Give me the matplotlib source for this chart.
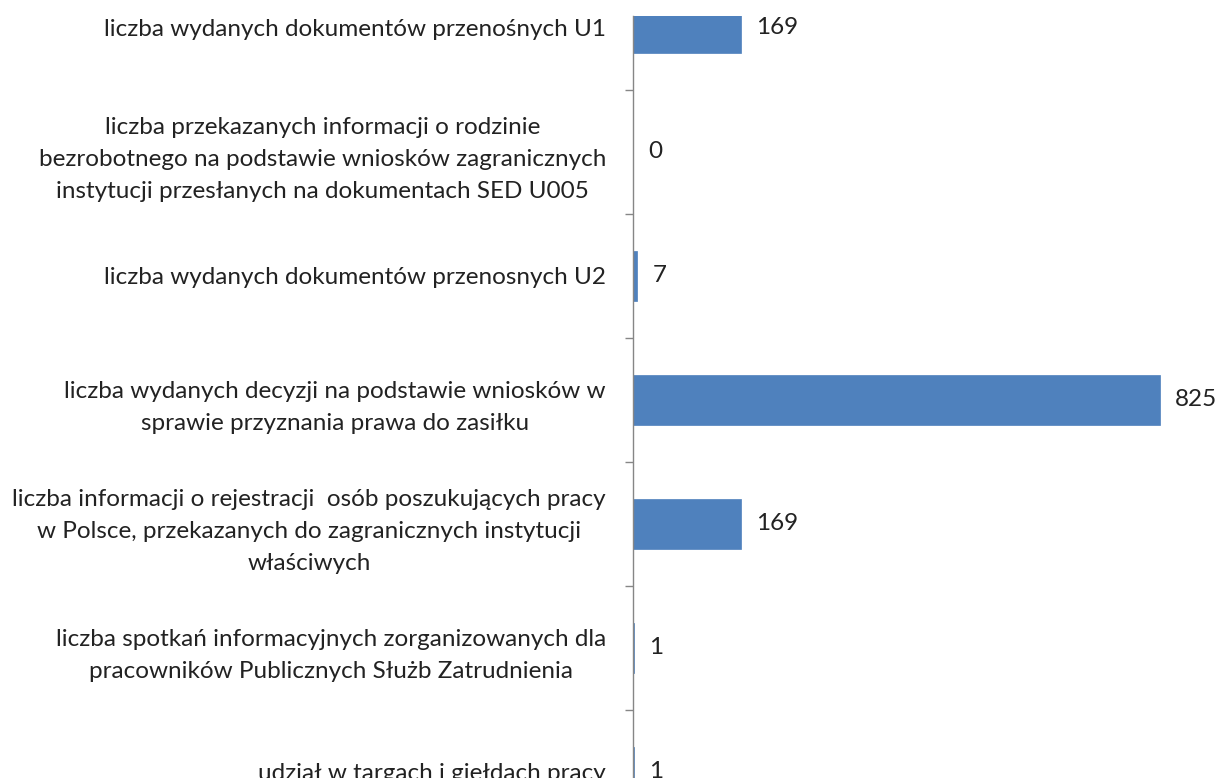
import matplotlib
matplotlib.use("Agg")
import matplotlib.pyplot as plt

categories = [
    "liczba wydanych dokumentów przenośnych U1",
    "liczba przekazanych informacji o rodzinie\nbezrobotnego na podstawie wniosków zagranicznych\ninstytucji przesłanych na dokumentach SED U005",
    "liczba wydanych dokumentów przenosnych U2",
    "liczba wydanych decyzji na podstawie wniosków w\nsprawie przyznania prawa do zasiłku",
    "liczba informacji o rejestracji  osób poszukujących pracy\nw Polsce, przekazanych do zagranicznych instytucji\nwłaściwych",
    "liczba spotkań informacyjnych zorganizowanych dla\npracowników Publicznych Służb Zatrudnienia",
    "udział w targach i giełdach pracy",
]
values = [169, 0, 7, 825, 169, 1, 1]

plt.rcParams['font.family'] = ['Lato', 'DejaVu Sans']

W, H = 1216, 778
fig = plt.figure(figsize=(W / 100, H / 100), dpi=100)
# plot area: top visible at y=16px, extends below the figure (chart is a crop)
unit_px = 124.0
c0_px = 28.0
top_px = 16.0
n = len(categories)
bot_px = c0_px + (n - 0.5) * unit_px
y_top = -(c0_px - top_px) / unit_px
left_px, right_px = 633, 1208
ax = fig.add_axes([left_px / W, 1 - bot_px / H, (right_px - left_px) / W, (bot_px - top_px) / H])

pos = list(range(n))
bars = ax.barh(pos, values, height=0.4, color="#4F81BD", edgecolor="#4F81BD", linewidth=0.5)
ax.set_ylim(n - 0.5, y_top)
ax.set_xlim(0, 900)

ax.set_yticks(pos)
ax.set_yticklabels(categories, multialignment="center", fontsize=17.5, color="#222222",
                   linespacing=1.64)
ax.set_yticks([p + 0.5 for p in pos[:-1]], minor=True)
ax.tick_params(axis="y", which="major", length=0, pad=19.5)
ax.tick_params(axis="y", which="minor", length=6, width=1, color="#868686", direction="out")

ax.set_xticks([])
for s in ["top", "right", "bottom"]:
    ax.spines[s].set_visible(False)
ax.spines["left"].set_color("#868686")
ax.spines["left"].set_linewidth(1)

ax.bar_label(bars, labels=[str(v) for v in values], padding=11, fontsize=17.5, color="#222222")

fig.savefig("out.png", dpi=100)
